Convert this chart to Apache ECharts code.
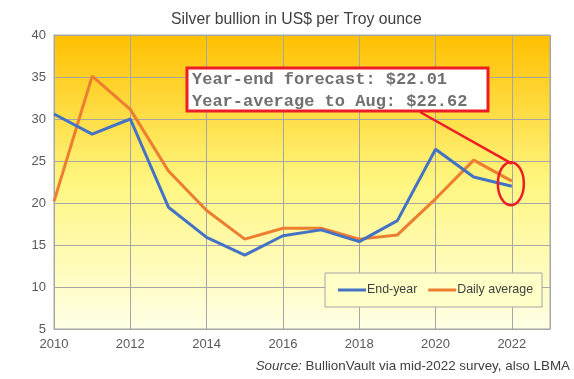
<!DOCTYPE html>
<html><head><meta charset="utf-8">
<script src="https://cdn.jsdelivr.net/npm/echarts@6/dist/echarts.min.js"></script>
<style>html,body{margin:0;padding:0;background:#fff}#c{width:574px;height:379px}</style>
</head><body><div id="c"></div>
<script>
const years = [2010,2011,2012,2013,2014,2015,2016,2017,2018,2019,2020,2021,2022];
const endYear = [30.6,28.2,30.0,19.5,15.9,13.8,16.1,16.8,15.4,17.9,26.4,23.1,22.0];
const dailyAvg = [20.2,35.1,31.15,23.8,19.1,15.7,17.0,17.0,15.7,16.2,20.5,25.1,22.6];
const titleText = 'Silver bullion in US$ per Troy ounce';
const noteLines = ['Year-end forecast: $22.01','Year-average to Aug: $22.62'];

const chart = echarts.init(document.getElementById('c'), null, {renderer:'canvas'});
const font = 'Liberation Sans, Arial, sans-serif';
const option = {
  animation:false,
  title:{text:titleText,left:166,top:7,textStyle:{fontFamily:font,fontSize:15.75,fontWeight:'normal',color:'#404040'}},
  grid:{left:54,right:24,top:35,bottom:50,show:true,borderColor:'#A6A6A6',borderWidth:1,
    backgroundColor:new echarts.graphic.LinearGradient(0,0,0,1,[
      {offset:0,color:'#FFC000'},{offset:0.5,color:'#FFF680'},{offset:1,color:'#FFFFE6'}])},
  legend:{data:['End-year','Daily average'],left:325,top:273,orient:'horizontal',
    backgroundColor:'#FFFFC8',borderColor:'#A6A6A6',borderWidth:1,padding:[11,9,11,13],
    itemWidth:28,itemHeight:3,itemGap:11,icon:'rect',
    textStyle:{fontFamily:font,fontSize:12.4,color:'#404040',padding:[0,0,0,-4]}},
  xAxis:{type:'value',min:2010,max:2023,interval:2,
    axisLine:{lineStyle:{color:'#A6A6A6'}},axisTick:{show:false},
    splitLine:{show:true,lineStyle:{color:'#A6A6A6',width:1}},
    axisLabel:{showMaxLabel:false,formatter:v=>String(v),fontFamily:font,fontSize:13,color:'#595959',margin:9}},
  yAxis:{type:'value',min:5,max:40,interval:5,
    axisLine:{show:true,lineStyle:{color:'#A6A6A6'}},axisTick:{show:false},
    splitLine:{show:true,lineStyle:{color:'#A6A6A6',width:1}},
    axisLabel:{fontFamily:font,fontSize:13,color:'#595959',margin:8}},
  series:[
    {name:'End-year',type:'line',data:years.map((y,i)=>[y,endYear[i]]),symbol:'none',
      lineStyle:{color:'#4472C4',width:3},itemStyle:{color:'#4472C4'},z:3},
    {name:'Daily average',type:'line',data:years.map((y,i)=>[y,dailyAvg[i]]),symbol:'none',
      lineStyle:{color:'#ED7D31',width:3},itemStyle:{color:'#ED7D31'},z:2}
  ]
};
chart.setOption(option);
const c = chart.convertToPixel({gridIndex:0},[2022,22.3]);
chart.setOption({graphic:[
  {type:'line',shape:{x1:420,y1:112,x2:c[0],y2:c[1]-20},style:{stroke:'#EE1C25',lineWidth:2.5},z:10},
  {type:'ellipse',shape:{cx:c[0]-1,cy:c[1],rx:13,ry:21.5},style:{fill:null,stroke:'#EE1C25',lineWidth:2.5},z:10},
  {type:'rect',shape:{x:187,y:68,width:301,height:43},style:{fill:'#fff',stroke:'#EE1C25',lineWidth:3},z:10},
  {type:'text',x:192,y:69,style:{text:noteLines.join('\n'),font:'bold 17px "Liberation Mono", "Courier New", monospace',fill:'#707070',lineHeight:22},z:11},
  {type:'text',right:4,top:360,style:{text:'{i|Source:} BullionVault via mid-2022 survey, also LBMA',
    rich:{i:{fontStyle:'italic',fontFamily:font,fontSize:13.4,fill:'#404040'}},font:'13.4px Liberation Sans, Arial, sans-serif',fill:'#404040'},z:11}
]});
</script></body></html>
